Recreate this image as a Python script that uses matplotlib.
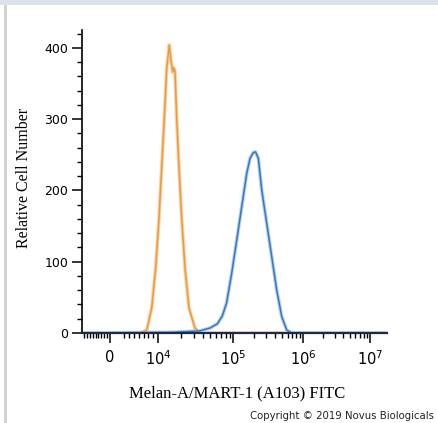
import numpy as np
import matplotlib
matplotlib.use("Agg")
import matplotlib.pyplot as plt
from matplotlib.patches import Rectangle

# histogram traces (FITC intensity, cell count)
isotype_x = [-5800, 6250, 7650, 8690, 9520, 10310, 11200, 12140, 13060, 14150, 14770,
             15700, 16190, 16850, 17750, 19060, 20700, 22900, 25900, 31100, 36300, 1.79e7]
isotype_y = [0, 0, 4, 35, 91, 161, 232, 302, 371, 404, 385,
             366, 372, 367, 302, 232, 161, 91, 35, 7, 0, 0]

melan_x = [-5800, 15850, 24150, 36300, 49350, 62000, 72000, 82000, 96100, 112900, 133100,
           157000, 175000, 195000, 209600, 229800, 256800, 302800, 357000, 421000, 496600,
           585000, 690000, 1.79e7]
melan_y = [0, 1, 2, 3, 7, 13, 24, 42, 84, 130, 177,
           224, 245, 253, 254, 245, 201, 154, 107, 60, 23,
           4, 0, 0]

x_major = [0, 1e4, 1e5, 1e6, 1e7]
x_labels = ['0', r'$\mathregular{10^{4}}$', r'$\mathregular{10^{5}}$',
            r'$\mathregular{10^{6}}$', r'$\mathregular{10^{7}}$']
y_major = [0, 100, 200, 300, 400]

# biexponential-like axis: linear near zero, log decades above 1e4
DEC_LOG = [4, 5, 6, 7, 8]
DEC_POS = [158, 233, 303, 370, 437]
ZERO_POS = 110
LIN_W = 48


def fwd(v):
    v = np.asarray(v, dtype=float)
    lin = ZERO_POS + v / 1e4 * LIN_W
    lg = np.interp(np.log10(np.clip(v, 1e4, None)), DEC_LOG, DEC_POS)
    return np.where(v <= 1e4, lin, lg)


def inv(p):
    p = np.asarray(p, dtype=float)
    lin = (p - ZERO_POS) / LIN_W * 1e4
    lg = 10 ** np.interp(p, DEC_POS, DEC_LOG)
    return np.where(p <= DEC_POS[0], lin, lg)


plt.rcParams['mathtext.fontset'] = 'dejavusans'

fig = plt.figure(figsize=(4.38, 4.23), dpi=100)
fig.patches.append(Rectangle((0, 1 - 5 / 423), 1, 5 / 423, transform=fig.transFigure,
                             facecolor='#dde1ec', edgecolor='none'))
fig.patches.append(Rectangle((4 / 438, 0), 3 / 438, 1 - 5 / 423, transform=fig.transFigure,
                             facecolor='#d2d2d2', edgecolor='none'))

ax = fig.add_axes([82 / 438, 1 - 333 / 423, 305 / 438, 303 / 423])
ax.set_xscale('function', functions=(fwd, inv))
ax.set_xlim(-5830, 1.79e7)
ax.set_ylim(0, 425)

for xs, ys, core, halo in [(isotype_x, isotype_y, '#ec9a40', '#f8d2a4'),
                           (melan_x, melan_y, '#3a76bf', '#b3d2f0')]:
    ax.plot(xs, ys, color=halo, lw=2.6, solid_joinstyle='round', zorder=1.5)
    ax.plot(xs, ys, color=core, lw=1.1, solid_joinstyle='round', zorder=2)

for s in ['top', 'right']:
    ax.spines[s].set_visible(False)
ax.spines['left'].set_linewidth(1.2)
ax.spines['bottom'].set_linewidth(1.6)
ax.spines['bottom'].set_color('#1c2a48')

minor_x = list(np.arange(-5400, 0, 600)) + list(np.arange(3000, 10000, 1000))
for d in [4, 5, 6]:
    minor_x += [k * 10 ** d for k in range(2, 10)]
ax.set_xticks(x_major)
ax.set_xticklabels(x_labels)
ax.set_xticks(minor_x, minor=True)
ax.set_yticks(y_major)
ax.set_yticks(np.arange(20, 425, 20), minor=True)

ax.tick_params(which='major', length=7, width=1.1, direction='out', labelsize=9)
ax.tick_params(which='minor', length=3.5, width=1.0, direction='out')
ax.tick_params(axis='x', which='major', pad=5, labelsize=10.5)
ax.tick_params(axis='y', which='major', pad=3)

ax.set_ylabel('Relative Cell Number', family='Liberation Serif', fontsize=11.5)
ax.yaxis.set_label_coords(-0.165, 0.513)
ax.set_xlabel('Melan-A/MART-1 (A103) FITC', family='Liberation Serif', fontsize=12)
ax.xaxis.set_label_coords(0.507, -0.172)

fig.text(250 / 438, 4 / 423, 'Copyright \u00a9 2019 Novus Biologicals',
         fontsize=7.3, color='#222222', va='baseline', ha='left')

fig.savefig('out.png', dpi=100)
